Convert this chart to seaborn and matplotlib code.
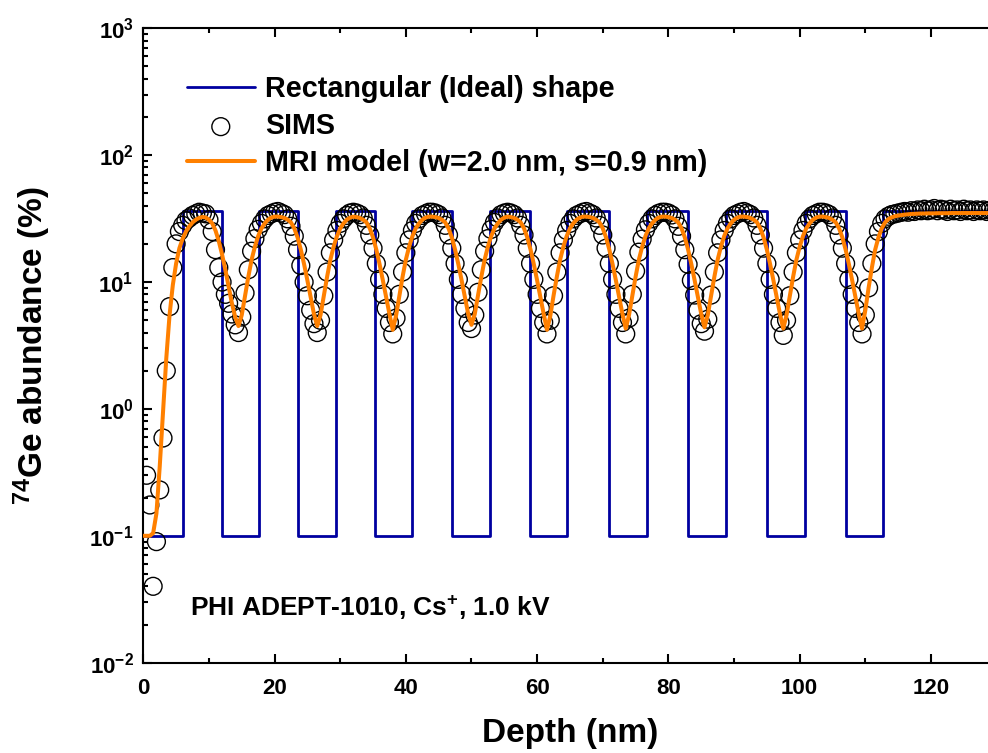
import numpy as np
import pandas as pd
import matplotlib
matplotlib.use("Agg")
import matplotlib.pyplot as plt
import seaborn as sns
from matplotlib.ticker import LogLocator, MultipleLocator, NullFormatter

# ---------------- data ----------------
# Rectangular (ideal) profile: layer edges (nm) and level of each step (%)
rect_edges = [0.0, 6.0, 12.0, 17.6, 23.6, 29.3, 35.3, 41.0, 47.1, 52.8, 58.9,
              64.6, 71.0, 76.7, 83.0, 88.8, 95.0, 100.8, 107.0, 112.7, 130.0]
rect_levels = [0.1, 36, 0.1, 36, 0.1, 36, 0.1, 36, 0.1, 36, 0.1,
               36, 0.1, 36, 0.1, 36, 0.1, 36, 0.1, 36, 36]

# SIMS measurement, sampled every 0.5 nm starting at 0.5 nm
sims_start = 0.5
sims_step = 0.5
sims_val = [
    # 0.5 - 14.5
    0.30, 0.175, 0.04, 0.09, 0.23, 0.59, 2.0, 6.4, 13.0, 20.0,
    25.0, 28.0, 30.5, 32.0, 33.5, 34.5, 35.5, 35.0, 34.5, 31.0,
    25.0, 18.0, 13.0, 10.0, 8.0, 6.8, 5.6, 4.6, 4.0,
    # 15.0 - 26.5
    5.3, 8.2, 12.5, 17.5, 22.0, 26.0, 29.0, 31.5, 33.5, 34.5, 35.5, 36.0,
    35.0, 34.0, 31.5, 27.5, 23.0, 18.0, 13.5, 10.0, 7.8, 6.0, 4.7, 4.0,
    # 27.0 - 38.0
    5.0, 7.8, 12.0, 17.0, 21.5, 25.5, 29.0, 31.5, 33.5, 35.0, 35.5,
    35.0, 34.0, 32.0, 28.0, 23.5, 18.5, 14.0, 10.5, 8.0, 6.2, 4.8, 3.9,
    # 38.5 - 50.0
    5.2, 8.0, 12.0, 17.0, 21.5, 25.5, 29.0, 31.5, 33.5, 34.5, 35.5, 35.5,
    35.0, 34.0, 32.0, 28.0, 23.5, 18.5, 14.0, 10.5, 8.0, 6.2, 4.8, 4.3,
    # 50.5 - 61.5
    5.5, 8.3, 12.5, 17.5, 22.0, 26.0, 29.5, 32.0, 34.0, 35.0, 35.5,
    35.0, 34.0, 32.0, 28.0, 23.5, 18.5, 14.0, 10.5, 8.0, 6.2, 4.8, 3.9,
    # 62.0 - 73.5
    5.0, 7.8, 12.0, 17.0, 21.5, 25.5, 29.0, 31.5, 33.5, 34.5, 35.5, 36.0,
    35.0, 34.0, 32.0, 28.0, 23.5, 18.5, 14.0, 10.5, 8.0, 6.2, 4.8, 3.9,
    # 74.0 - 85.5
    5.2, 8.0, 12.2, 17.2, 21.8, 25.8, 29.0, 31.5, 33.5, 34.8, 35.5, 35.5,
    35.0, 33.8, 31.5, 27.5, 23.0, 18.0, 13.8, 10.3, 7.9, 6.0, 4.7, 4.1,
    # 86.0 - 97.5
    5.1, 7.9, 12.0, 17.0, 21.5, 25.5, 29.0, 31.5, 33.5, 34.5, 35.5, 36.0,
    35.0, 34.0, 32.0, 28.0, 23.5, 18.5, 14.0, 10.5, 8.0, 6.2, 4.8, 3.8,
    # 98.0 - 109.5
    5.0, 7.8, 12.0, 17.0, 21.5, 25.5, 29.0, 31.5, 33.5, 34.5, 35.5, 35.5,
    35.0, 34.0, 32.0, 28.0, 23.5, 18.5, 14.0, 10.5, 8.0, 6.2, 4.8, 3.9,
    # 110.0 - 130.0
    5.5, 9.0, 14.0, 20.0, 25.0, 29.0, 31.5, 33.0, 34.0, 34.5, 35.0, 35.5,
    36.0, 35.5, 36.5, 36.0, 37.0, 36.5, 37.5, 36.5, 37.0, 38.0, 36.5, 37.5,
    37.0, 36.0, 37.5, 36.5, 37.0, 36.0, 37.5, 36.5, 37.0, 36.0, 37.0, 36.5,
    37.0, 36.0, 36.8, 36.2, 36.8,
]

# MRI model curve, sampled every 0.5 nm starting at 0 nm
mri_start = 0.0
mri_step = 0.5
mri_val = [
    # 0.0 - 14.5
    0.10, 0.10, 0.10, 0.105, 0.15, 0.35, 0.95, 2.5, 5.5, 9.5,
    14.0, 18.5, 22.0, 25.0, 27.5, 29.5, 31.0, 32.0, 32.6, 32.3,
    31.0, 29.0, 25.5, 21.0, 16.5, 12.5, 9.2, 6.8, 5.3, 4.5,
    # 15.0 - 26.5
    5.5, 7.8, 11.0, 15.0, 19.0, 23.0, 26.5, 29.0, 31.0, 32.2, 32.8, 32.8,
    32.5, 32.0, 31.0, 29.5, 26.5, 22.5, 18.0, 13.8, 10.3, 7.6, 5.6, 4.5,
    # 27.0 - 38.0
    5.5, 7.8, 11.0, 15.0, 19.0, 23.0, 26.5, 29.0, 31.0, 32.2, 32.8,
    32.5, 32.0, 31.0, 29.5, 26.5, 22.5, 18.0, 13.8, 10.3, 7.6, 5.6, 4.2,
    # 38.5 - 50.0
    5.4, 7.7, 11.0, 15.0, 19.0, 23.0, 26.5, 29.0, 31.0, 32.2, 32.8, 32.8,
    32.5, 32.0, 31.0, 29.5, 26.5, 22.5, 18.0, 13.8, 10.3, 7.6, 5.6, 4.6,
    # 50.5 - 61.5
    5.6, 7.9, 11.0, 15.0, 19.0, 23.0, 26.5, 29.0, 31.0, 32.2, 32.8,
    32.5, 32.0, 31.0, 29.5, 26.5, 22.5, 18.0, 13.8, 10.3, 7.6, 5.6, 4.2,
    # 62.0 - 73.5
    5.4, 7.8, 11.0, 15.0, 19.0, 23.0, 26.5, 29.0, 31.0, 32.2, 32.8, 32.8,
    32.5, 32.0, 31.0, 29.5, 26.5, 22.5, 18.0, 13.8, 10.3, 7.6, 5.6, 4.3,
    # 74.0 - 85.5
    5.5, 7.8, 11.0, 15.0, 19.0, 23.0, 26.5, 29.0, 31.0, 32.2, 32.8, 32.8,
    32.5, 32.0, 31.0, 29.5, 26.5, 22.5, 18.0, 13.8, 10.3, 7.6, 5.6, 4.4,
    # 86.0 - 97.5
    5.5, 7.8, 11.0, 15.0, 19.0, 23.0, 26.5, 29.0, 31.0, 32.2, 32.8, 32.8,
    32.5, 32.0, 31.0, 29.5, 26.5, 22.5, 18.0, 13.8, 10.3, 7.6, 5.6, 4.3,
    # 98.0 - 109.5
    5.5, 7.8, 11.0, 15.0, 19.0, 23.0, 26.5, 29.0, 31.0, 32.2, 32.8, 32.8,
    32.5, 32.0, 31.0, 29.5, 26.5, 22.5, 18.0, 13.8, 10.3, 7.6, 5.6, 4.3,
    # 110.0 - 118.0
    6.0, 9.0, 13.0, 18.0, 22.5, 26.5, 29.5, 31.3, 32.3, 33.0, 33.4, 33.7,
    34.0, 34.2, 34.4, 34.5, 34.6,
    # 118.5 - 130.0
    34.7, 34.7, 34.8, 34.8, 34.8, 34.9, 34.9, 34.9, 34.9, 35.0, 35.0, 35.0,
    35.0, 35.0, 35.0, 35.0, 35.0, 35.0, 35.0, 35.0, 35.0, 35.0, 35.0, 35.0,
]

legend_labels = ["Rectangular (Ideal) shape", "SIMS", "MRI model (w=2.0 nm, s=0.9 nm)"]
annotation = r"PHI ADEPT-1010, Cs$\mathdefault{^{+}}$, 1.0 kV"
x_label = "Depth (nm)"
y_label = r"$\mathdefault{^{74}}$Ge abundance (%)"
x_ticks = [0, 20, 40, 60, 80, 100, 120]

# ---------------- tables ----------------
sims_df = pd.DataFrame({
    "depth": sims_start + sims_step * np.arange(len(sims_val)),
    "value": sims_val,
})
mri_df = pd.DataFrame({
    "depth": mri_start + mri_step * np.arange(len(mri_val)),
    "value": mri_val,
})
rect_df = pd.DataFrame({"depth": rect_edges, "value": rect_levels})

# ---------------- style ----------------
sns.set_style("ticks")
plt.rcParams["font.family"] = ["Liberation Sans", "DejaVu Sans"]
plt.rcParams["font.weight"] = "bold"
plt.rcParams["mathtext.default"] = "regular"
plt.rcParams["axes.linewidth"] = 1.5
plt.rcParams["axes.edgecolor"] = "black"
plt.rcParams["text.color"] = "black"
plt.rcParams["axes.labelcolor"] = "black"
plt.rcParams["xtick.color"] = "black"
plt.rcParams["ytick.color"] = "black"

W, H = 988, 753
fig = plt.figure(figsize=(W / 100, H / 100), dpi=100)
ax_l, ax_r, ax_t, ax_b = 143.3, 996.6, 28.3, 662.7
ax = fig.add_axes([ax_l / W, 1 - ax_b / H, (ax_r - ax_l) / W, (ax_b - ax_t) / H])
ax.set_yscale("log")

blue = "#0000A0"
orange = "#FF8000"

sns.lineplot(data=rect_df, x="depth", y="value", drawstyle="steps-post",
             color=blue, linewidth=2.0, ax=ax, label=legend_labels[0],
             zorder=2, sort=False, estimator=None)
sns.scatterplot(data=sims_df, x="depth", y="value", marker="o", s=165,
                facecolor="none", edgecolor="black", linewidth=1.0,
                ax=ax, label=legend_labels[1], zorder=2.5)
sns.lineplot(data=mri_df, x="depth", y="value", color=orange, linewidth=2.9,
             ax=ax, label=legend_labels[2], zorder=3, sort=False, estimator=None)

ax.set_xlim(0, 130)
ax.set_ylim(1e-2, 1e3)
ax.set_xticks(x_ticks)
ax.xaxis.set_minor_locator(MultipleLocator(10))
ax.yaxis.set_major_locator(LogLocator(base=10, numticks=20))
ax.yaxis.set_minor_locator(LogLocator(base=10, subs=np.arange(2, 10), numticks=20))
ax.yaxis.set_minor_formatter(NullFormatter())

ax.tick_params(which="both", direction="in", top=True, right=True,
               width=1.5, color="black")
ax.tick_params(which="major", length=6.5, labelsize=16)
ax.tick_params(axis="x", which="major", pad=11)
ax.tick_params(axis="y", which="major", pad=7)
ax.tick_params(which="minor", length=3.6)
for lab in ax.get_xticklabels() + ax.get_yticklabels():
    lab.set_fontweight("bold")
    lab.set_color("black")

ax.set_xlabel(x_label, fontsize=24, fontweight="bold", labelpad=14)
ax.set_ylabel(y_label, fontsize=24, fontweight="bold", labelpad=26)

ax.text(7.1, 0.027, annotation, fontsize=19, fontweight="bold",
        ha="left", va="center", color="black")

handles, labels = ax.get_legend_handles_labels()
leg = ax.legend(handles, labels, loc="upper left",
                bbox_to_anchor=((187 - ax_l) / (ax_r - ax_l), (ax_b - 75) / (ax_b - ax_t)),
                frameon=False, handlelength=2.35, handletextpad=0.38,
                labelspacing=0.32, borderpad=0, borderaxespad=0,
                prop={"weight": "bold", "size": 20.7})
for t in leg.get_texts():
    t.set_color("black")

for sp in ax.spines.values():
    sp.set_linewidth(1.5)

fig.savefig("out.png", dpi=100)
